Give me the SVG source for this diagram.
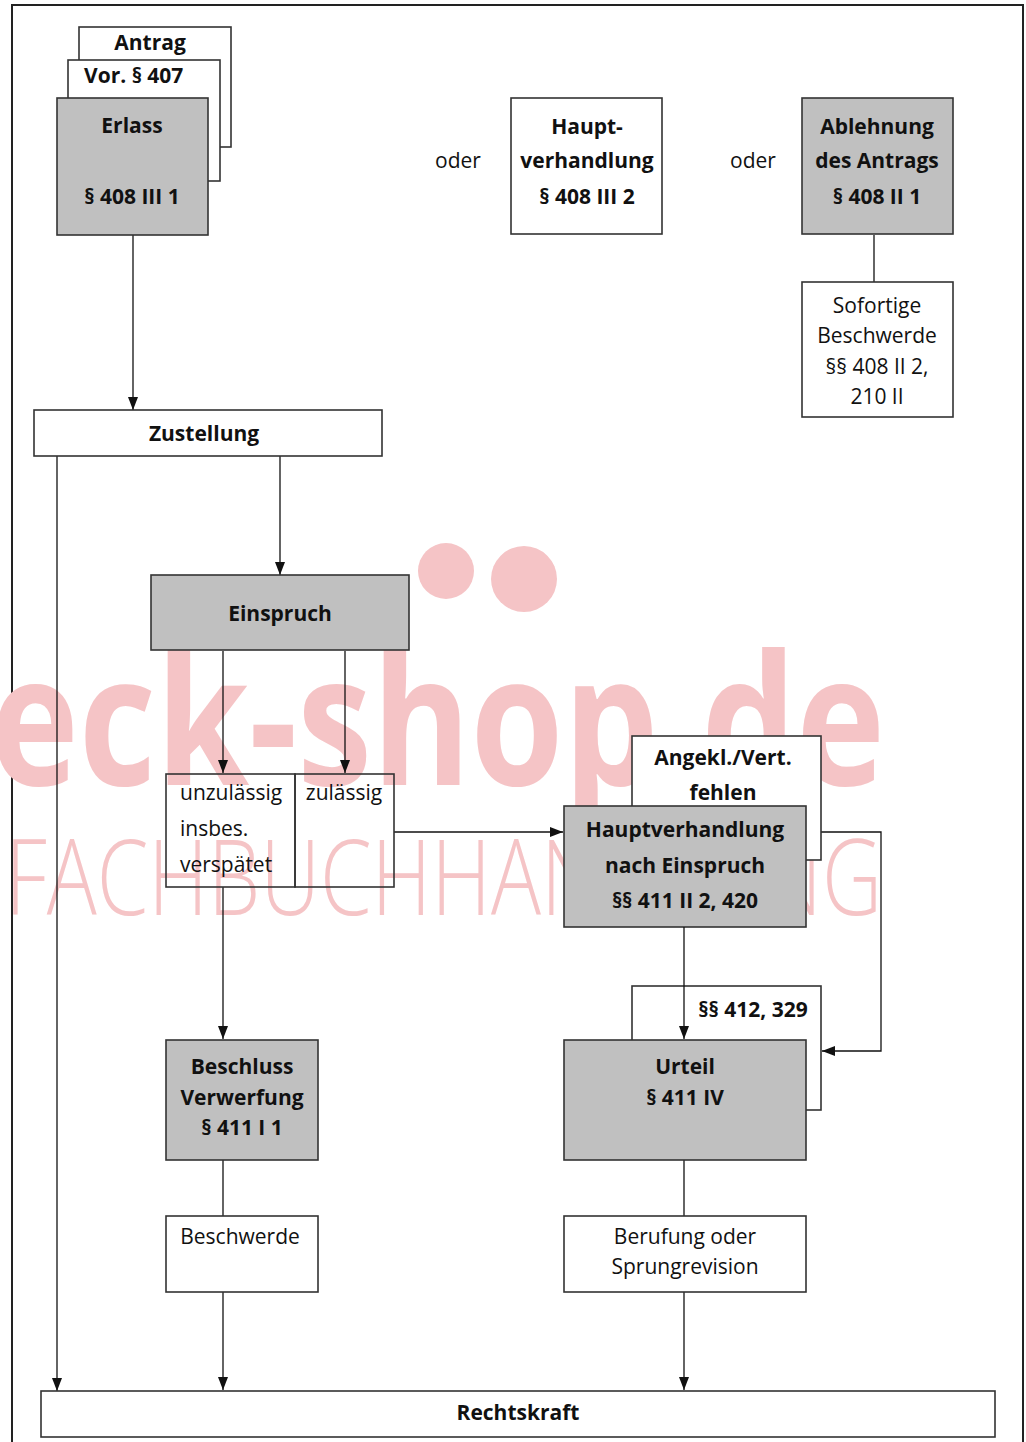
<svg xmlns="http://www.w3.org/2000/svg" width="1026" height="1442" viewBox="0 0 1026 1442">
<style>
.box{stroke:#333;stroke-width:1.6;fill:#fff}
.gray{fill:#c0c0c0}
.clear{fill:none}
.t{font-family:"Open Sans","Noto Sans","Liberation Sans",sans-serif;font-size:21px;fill:#111}
.b{font-weight:700}
.m{text-anchor:middle}
.c{stroke:#111;stroke-width:1.3;fill:none}
.wm{fill:#f5c4c6}
</style>
<defs>
<marker id="ah" viewBox="0 0 13 10" refX="13" refY="5" markerWidth="13" markerHeight="10" markerUnits="userSpaceOnUse" orient="auto">
<path d="M0,0 L13,5 L0,10 z" fill="#111"/>
</marker>
</defs>
<rect x="0" y="0" width="1026" height="1442" fill="#fff"/>
<rect x="12" y="5" width="1011" height="1460" fill="none" stroke="#222" stroke-width="2"/>

<g id="watermark">
<text class="wm" x="-10" y="785" font-family="'Open Sans','Noto Sans',sans-serif" font-weight="700" font-size="182" textLength="895" lengthAdjust="spacingAndGlyphs">eck-shop.de</text>
<ellipse class="wm" cx="446" cy="571" rx="28" ry="28"/>
<ellipse class="wm" cx="524" cy="579" rx="33" ry="33"/>
<text class="wm" x="5" y="915" font-family="'Open Sans','Noto Sans',sans-serif" font-weight="300" font-size="105" textLength="877" lengthAdjust="spacingAndGlyphs">FACHBUCHHANDLUNG</text>
</g>

<g id="connectors">
<line class="c" x1="133" y1="235" x2="133" y2="410" marker-end="url(#ah)"/>
<line class="c" x1="874" y1="235" x2="874" y2="282"/>
<line class="c" x1="57" y1="456" x2="57" y2="1391" marker-end="url(#ah)"/>
<line class="c" x1="280" y1="456" x2="280" y2="575" marker-end="url(#ah)"/>
<line class="c" x1="223" y1="651" x2="223" y2="773" marker-end="url(#ah)"/>
<line class="c" x1="345" y1="651" x2="345" y2="773" marker-end="url(#ah)"/>
<line class="c" x1="223" y1="887" x2="223" y2="1039" marker-end="url(#ah)"/>
<line class="c" x1="394" y1="832" x2="563" y2="832" marker-end="url(#ah)"/>
<polyline class="c" points="821,832 881,832 881,1051 822,1051" marker-end="url(#ah)"/>
<line class="c" x1="223" y1="1160" x2="223" y2="1216"/>
<line class="c" x1="223" y1="1292" x2="223" y2="1390" marker-end="url(#ah)"/>
<line class="c" x1="684" y1="1160" x2="684" y2="1216"/>
<line class="c" x1="684" y1="1292" x2="684" y2="1390" marker-end="url(#ah)"/>
</g>

<g id="antrag">
<rect class="box" x="79" y="27" width="152" height="120"/>
<text class="t b m" x="150" y="50">Antrag</text>
</g>
<g id="vor407">
<rect class="box" x="68" y="60" width="152" height="121"/>
<text class="t b" x="84" y="83">Vor. § 407</text>
</g>
<g id="erlass">
<rect class="box gray" x="57" y="98" width="151" height="137"/>
<text class="t b m" x="132" y="133">Erlass</text>
<text class="t b m" x="132" y="204">§ 408 III 1</text>
</g>

<g id="oder1"><text class="t m" x="458" y="168">oder</text></g>
<g id="hauptverhandlung">
<rect class="box" x="511" y="98" width="151" height="136"/>
<text class="t b m" x="587" y="134">Haupt-</text>
<text class="t b m" x="587" y="168">verhandlung</text>
<text class="t b m" x="587" y="204">§ 408 III 2</text>
</g>
<g id="oder2"><text class="t m" x="753" y="168">oder</text></g>
<g id="ablehnung">
<rect class="box gray" x="802" y="98" width="151" height="136"/>
<text class="t b m" x="877" y="134">Ablehnung</text>
<text class="t b m" x="877" y="168">des Antrags</text>
<text class="t b m" x="877" y="204">§ 408 II 1</text>
</g>
<g id="sofortige">
<rect class="box" x="802" y="282" width="151" height="135"/>
<text class="t m" x="877" y="313">Sofortige</text>
<text class="t m" x="877" y="343">Beschwerde</text>
<text class="t m" x="877" y="374">§§ 408 II 2,</text>
<text class="t m" x="877" y="404">210 II</text>
</g>

<g id="zustellung">
<rect class="box" x="34" y="410" width="348" height="46"/>
<text class="t b m" x="204" y="441">Zustellung</text>
</g>
<g id="einspruch">
<rect class="box gray" x="151" y="575" width="258" height="75"/>
<text class="t b m" x="280" y="621">Einspruch</text>
</g>
<g id="unzulaessig">
<rect class="box clear" x="166" y="774" width="129" height="113"/>
<text class="t" x="180" y="800">unzulässig</text>
<text class="t" x="180" y="836">insbes.</text>
<text class="t" x="180" y="872">verspätet</text>
</g>
<g id="zulaessig">
<rect class="box clear" x="295" y="774" width="99" height="113"/>
<text class="t m" x="344" y="800">zulässig</text>
</g>

<g id="angekl">
<rect class="box" x="632" y="736" width="189" height="124"/>
<text class="t b m" x="723" y="765">Angekl./Vert.</text>
<text class="t b m" x="723" y="800">fehlen</text>
</g>
<g id="hv-einspruch">
<rect class="box gray" x="564" y="806" width="242" height="121"/>
<text class="t b m" x="685" y="837">Hauptverhandlung</text>
<text class="t b m" x="685" y="873">nach Einspruch</text>
<text class="t b m" x="685" y="908">§§ 411 II 2, 420</text>
</g>

<g id="p412">
<rect class="box" x="632" y="986" width="189" height="124"/>
<text class="t b m" x="753" y="1017">§§ 412, 329</text>
</g>
<line class="c" x1="684" y1="927" x2="684" y2="1039" marker-end="url(#ah)"/>
<g id="urteil">
<rect class="box gray" x="564" y="1040" width="242" height="120"/>
<text class="t b m" x="685" y="1074">Urteil</text>
<text class="t b m" x="685" y="1105">§ 411 IV</text>
</g>
<g id="beschluss">
<rect class="box gray" x="166" y="1040" width="152" height="120"/>
<text class="t b m" x="242" y="1074">Beschluss</text>
<text class="t b m" x="242" y="1105">Verwerfung</text>
<text class="t b m" x="242" y="1135">§ 411 I 1</text>
</g>
<g id="beschwerde">
<rect class="box" x="166" y="1216" width="152" height="76"/>
<text class="t m" x="240" y="1244">Beschwerde</text>
</g>
<g id="berufung">
<rect class="box" x="564" y="1216" width="242" height="76"/>
<text class="t m" x="685" y="1244">Berufung oder</text>
<text class="t m" x="685" y="1274">Sprungrevision</text>
</g>
<g id="rechtskraft">
<rect class="box" x="41" y="1391" width="954" height="46"/>
<text class="t b m" x="518" y="1420">Rechtskraft</text>
</g>
</svg>
